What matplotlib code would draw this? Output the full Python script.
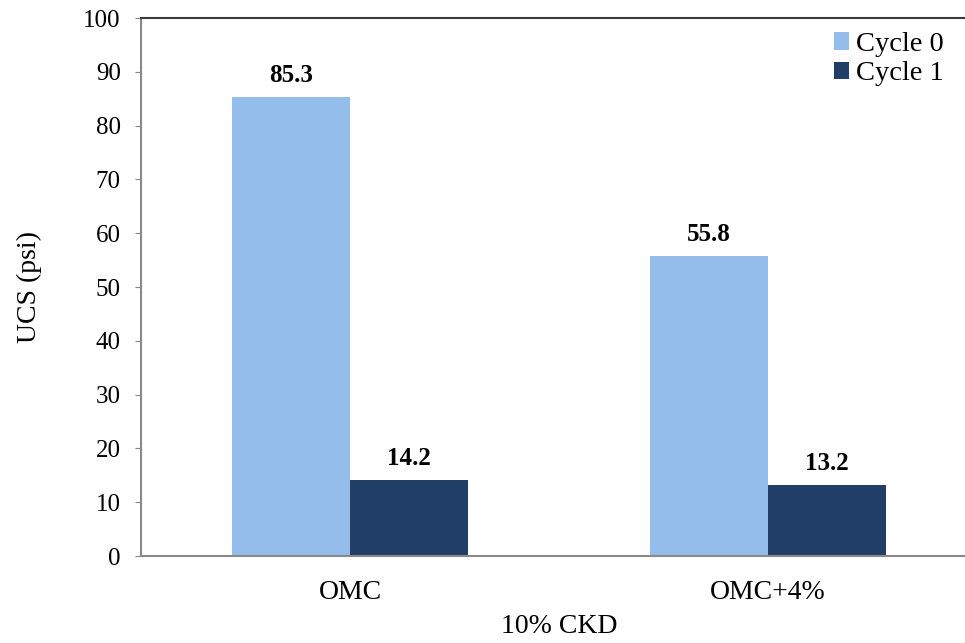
import matplotlib
matplotlib.use("Agg")
import matplotlib.pyplot as plt
import numpy as np

categories = ["OMC", "OMC+4%"]
series_names = ["Cycle 0", "Cycle 1"]
cycle0 = [85.3, 55.8]
cycle1 = [14.2, 13.2]
colors = ["#95bdeb", "#213f66"]

plt.rcParams['font.family'] = ['Liberation Serif', 'DejaVu Serif']

fig = plt.figure(figsize=(9.65, 6.43), dpi=100)
ax = fig.add_axes([0.1461, 0.1353, 0.8663, 0.8367])

x = np.arange(len(categories))
w = 0.283
b0 = ax.bar(x - w / 2, cycle0, w, color=colors[0], label=series_names[0])
b1 = ax.bar(x + w / 2, cycle1, w, color=colors[1], label=series_names[1])

for bars, vals in [(b0, cycle0), (b1, cycle1)]:
    for bar, v in zip(bars, vals):
        ax.annotate(f"{v:.1f}", (bar.get_x() + bar.get_width() / 2, v),
                    xytext=(0, 7), textcoords="offset points",
                    ha="center", va="bottom", fontsize=18, fontweight="bold")

ax.set_xlim(-0.5, 1.5)
ax.set_ylim(0, 100)
ax.set_yticks(range(0, 101, 10))
ax.set_xticks(x)
ax.set_xticklabels(categories)
ax.tick_params(axis="y", length=4.5, color="#898989", labelsize=18, pad=10)
ax.tick_params(axis="x", length=0, labelsize=20, pad=17)
ax.spines["right"].set_visible(False)
ax.spines["top"].set_color("#3a3a3a")
ax.spines["top"].set_linewidth(1.5)
for s in ["left", "bottom"]:
    ax.spines[s].set_color("#898989")
    ax.spines[s].set_linewidth(1.5)

ax.set_ylabel("UCS (psi)", fontsize=20, labelpad=30)
ax.set_xlabel("10% CKD", fontsize=20, labelpad=7)

ax.legend(loc="upper left", bbox_to_anchor=(0.815, 0.995), frameon=False,
          fontsize=20.5, handlelength=0.55, handleheight=0.55, handletextpad=0.25,
          labelspacing=0.15, borderaxespad=0.0)

fig.savefig("out.png", dpi=100)
